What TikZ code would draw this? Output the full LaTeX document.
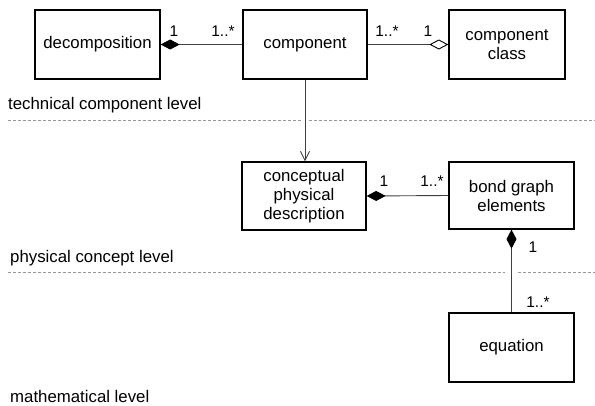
\documentclass[tikz,border=0pt]{standalone}
\usepackage{fontspec}
\setmainfont{Liberation Sans}
\usetikzlibrary{arrows.meta}

\tikzset{
  classbox/.style={draw=black, line width=1.3pt, fill=white, align=center,
    inner sep=0pt, font=\fontsize{16.8}{19}\selectfont},
  assoc/.style={draw=black!75, line width=0.9pt},
  mult/.style={inner sep=0pt, font=\fontsize{15.5}{17}\selectfont},
  leveltext/.style={inner sep=0pt, anchor=west, font=\fontsize{16.8}{19}\selectfont},
  levelline/.style={draw=black!40, line width=0.6pt, dash pattern=on 3pt off 2pt},
  compo/.style={{Diamond[length=19pt,width=10pt,color=black]}-},
  aggr/.style={-{Diamond[open,length=19pt,width=10pt,color=black,fill=white]}},
  depend/.style={-{Straight Barb[length=9pt,width=9pt]}}
}

\begin{document}
\begin{tikzpicture}[x=1pt, y=-1pt]
\useasboundingbox (0,0) rectangle (595,405);

% classes
\node[classbox, minimum width=125pt, minimum height=69pt] (decomp) at (97.5,44.5) {decomposition};
\node[classbox, minimum width=124pt, minimum height=69pt] (comp) at (305,44.5) {component};
\node[classbox, minimum width=116pt, minimum height=69pt] (cclass) at (507,44.5) {component\\class};
\node[classbox, minimum width=124pt, minimum height=68pt] (concept) at (304,196) {conceptual\\physical\\description};
\node[classbox, minimum width=125pt, minimum height=67pt] (bond) at (511.5,195.5) {bond graph\\elements};
\node[classbox, minimum width=125pt, minimum height=69pt] (eq) at (511.5,347.5) {equation};

% level captions
\node[leveltext] (lvtech) at (8,105) {technical component level};
\node[leveltext] (lvphys) at (10,258) {physical concept level};
\node[leveltext] (lvmath) at (10,396) {mathematical level};

% level separators, interrupted where connectors cross
\draw[levelline] (8,120) -- (301,120);
\draw[levelline] (309,120) -- (595,120);
\draw[levelline] (8,272.5) -- (505,272.5);
\draw[levelline] (518,272.5) -- (595,272.5);

% associations
\draw[assoc, compo] (decomp.east) -- (comp.west);
\draw[assoc, aggr] (comp.east) -- (cclass.west);
\draw[assoc, depend] (comp.south) -- (comp.south |- concept.north);
\draw[assoc, compo] (concept.east) -- (bond.west);
\draw[assoc, compo] (bond.south) -- (eq.north);

% multiplicities
\node[mult] (m1) at (174,31) {1};
\node[mult] (m2) at (223,31) {1..*};
\node[mult] (m3) at (387,31) {1..*};
\node[mult] (m4) at (428,31) {1};
\node[mult] (m5) at (384,181) {1};
\node[mult] (m6) at (432,181) {1..*};
\node[mult] (m7) at (533,247) {1};
\node[mult] (m8) at (538,302) {1..*};
\end{tikzpicture}
\end{document}
